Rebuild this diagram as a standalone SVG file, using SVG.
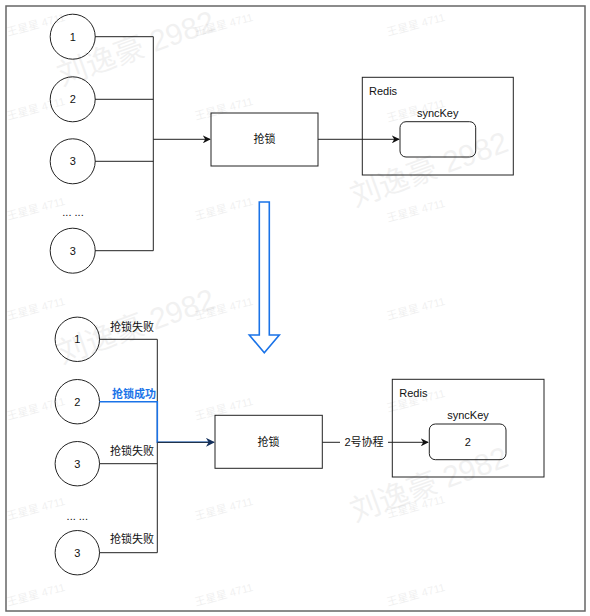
<svg xmlns="http://www.w3.org/2000/svg" width="590" height="616" viewBox="0 0 590 616">
<style>
text{font-family:"Liberation Sans","Noto Sans CJK SC",sans-serif;font-size:11px;fill:#111;}
.c{text-anchor:middle;dominant-baseline:central;}
.node{fill:#fff;stroke:#222;stroke-width:1;}
.ln{fill:none;stroke:#222;stroke-width:1;}
.bl{fill:none;stroke:#1a73e8;stroke-width:1.6;}
.wm1{font-size:30px;fill:#000;opacity:0.05;}
.wm2{font-size:11px;fill:#000;opacity:0.06;}
</style>
<defs>
<marker id="ah" viewBox="0 0 10 10" refX="9" refY="5" markerWidth="8" markerHeight="8" markerUnits="userSpaceOnUse" orient="auto">
<path d="M0,0 L10,5 L0,10 L3,5 z" fill="#111"/>
</marker>
<marker id="ahb" viewBox="0 0 10 10" refX="9" refY="5" markerWidth="9" markerHeight="9" markerUnits="userSpaceOnUse" orient="auto">
<path d="M0,0 L10,5 L0,10 L3,5 z" fill="#14305c"/>
</marker>
</defs>
<rect x="0" y="0" width="590" height="616" fill="#fff"/>
<rect id="frame" x="6" y="6" width="579" height="605" fill="none" stroke="#666" stroke-width="1.5"/>

<g id="t1"><circle class="node" cx="72.7" cy="36.7" r="22.5"/><text class="c" x="72.7" y="36.7">1</text></g>
<g id="t2"><circle class="node" cx="72.7" cy="99.3" r="22.5"/><text class="c" x="72.7" y="99.3">2</text></g>
<g id="t3"><circle class="node" cx="72.7" cy="161.3" r="22.5"/><text class="c" x="72.7" y="161.3">3</text></g>
<g id="tdots"><text class="c" x="73" y="212">... ...</text></g>
<g id="t4"><circle class="node" cx="72.7" cy="250.7" r="22.5"/><text class="c" x="72.7" y="250.7">3</text></g>
<g id="lock1"><rect class="node" x="211" y="113" width="107" height="53"/><text class="c" x="264.5" y="139.3">抢锁</text></g>
<g id="redis1"><rect class="node" x="362.3" y="77.3" width="151" height="97.7"/><text x="369" y="94.5">Redis</text>
<text class="c" x="437.7" y="112.7">syncKey</text>
<rect class="node" x="400" y="121.7" width="75.7" height="35.3" rx="6"/></g>

<g id="bigarrow"><path d="M259.3,202 H269.3 V335 H279.3 L264.3,352.7 L249.3,335 H259.3 Z" fill="#fff" stroke="#1a73e8" stroke-width="1.6"/></g>

<g id="b1"><circle class="node" cx="77.3" cy="339.3" r="22.2"/><text class="c" x="77.3" y="339.3">1</text></g>
<g id="b2"><circle class="node" cx="77.3" cy="401.7" r="22.2"/><text class="c" x="77.3" y="401.7">2</text></g>
<g id="b3"><circle class="node" cx="77.3" cy="463.7" r="22.2"/><text class="c" x="77.3" y="463.7">3</text></g>
<g id="bdots"><text class="c" x="77.3" y="515.7">... ...</text></g>
<g id="b4"><circle class="node" cx="77.3" cy="552.7" r="22.2"/><text class="c" x="77.3" y="552.7">3</text></g>
<g id="lock2"><rect class="node" x="215" y="415.3" width="107.3" height="53"/><text class="c" x="268.6" y="442.3">抢锁</text></g>
<g id="redis2"><rect class="node" x="392.3" y="379.3" width="151.7" height="97.7"/><text x="399.3" y="396.5">Redis</text>
<text class="c" x="468" y="415.3">syncKey</text>
<rect class="node" x="429.3" y="424" width="76.7" height="35.7" rx="6"/><text class="c" x="467.7" y="442">2</text></g>

<g id="connectors">
<path class="ln" d="M95,36.7 H153.3 M95,99.3 H153.3 M95,161.3 H153.3 M95,250.7 H153.3 M153.3,36.7 V250.7"/>
<path class="ln" d="M153.3,139.3 H210" marker-end="url(#ah)"/>
<path class="ln" d="M318,139.3 H399" marker-end="url(#ah)"/>
<path class="ln" d="M99.5,339.3 H157.3 M99.5,463.7 H157.3 M99.5,552.7 H157.3 M157.3,339.3 V552.7"/>
<path class="bl" d="M99.5,401.7 H157.3 V442.3 H210"/>
<path class="ln" d="M157.3,442.3 H214" stroke="#14305c" marker-end="url(#ahb)"/>
<path class="ln" d="M322.3,442.3 H428" marker-end="url(#ah)"/>
<rect x="340" y="435" width="48" height="14" fill="#fff"/>
<text class="c" x="364" y="442">2号协程</text>
<text class="c" x="132" y="326.7">抢锁失败</text>
<text class="c" x="134" y="394" style="fill:#1a73e8;font-weight:bold">抢锁成功</text>
<text class="c" x="132" y="451">抢锁失败</text>
<text class="c" x="132" y="539.3">抢锁失败</text>
</g>

<g id="watermarks">
<text class="wm1" transform="translate(62,86) rotate(-20)">刘逸豪 2982</text>
<text class="wm1" transform="translate(355,207) rotate(-20)">刘逸豪 2982</text>
<text class="wm1" transform="translate(62,364) rotate(-20)">刘逸豪 2982</text>
<text class="wm1" transform="translate(355,522) rotate(-20)">刘逸豪 2982</text>
<text class="wm2" transform="translate(8,36) rotate(-15)">王星星 4711</text>
<text class="wm2" transform="translate(196,36) rotate(-15)">王星星 4711</text>
<text class="wm2" transform="translate(388,36) rotate(-15)">王星星 4711</text>
<text class="wm2" transform="translate(8,120) rotate(-15)">王星星 4711</text>
<text class="wm2" transform="translate(196,120) rotate(-15)">王星星 4711</text>
<text class="wm2" transform="translate(388,122) rotate(-15)">王星星 4711</text>
<text class="wm2" transform="translate(8,220) rotate(-15)">王星星 4711</text>
<text class="wm2" transform="translate(196,220) rotate(-15)">王星星 4711</text>
<text class="wm2" transform="translate(388,222) rotate(-15)">王星星 4711</text>
<text class="wm2" transform="translate(8,320) rotate(-15)">王星星 4711</text>
<text class="wm2" transform="translate(196,320) rotate(-15)">王星星 4711</text>
<text class="wm2" transform="translate(388,320) rotate(-15)">王星星 4711</text>
<text class="wm2" transform="translate(8,420) rotate(-15)">王星星 4711</text>
<text class="wm2" transform="translate(196,420) rotate(-15)">王星星 4711</text>
<text class="wm2" transform="translate(388,412) rotate(-15)">王星星 4711</text>
<text class="wm2" transform="translate(8,520) rotate(-15)">王星星 4711</text>
<text class="wm2" transform="translate(196,520) rotate(-15)">王星星 4711</text>
<text class="wm2" transform="translate(388,518) rotate(-15)">王星星 4711</text>
<text class="wm2" transform="translate(8,606) rotate(-15)">王星星 4711</text>
<text class="wm2" transform="translate(196,606) rotate(-15)">王星星 4711</text>
<text class="wm2" transform="translate(388,606) rotate(-15)">王星星 4711</text>
</g>
</svg>
